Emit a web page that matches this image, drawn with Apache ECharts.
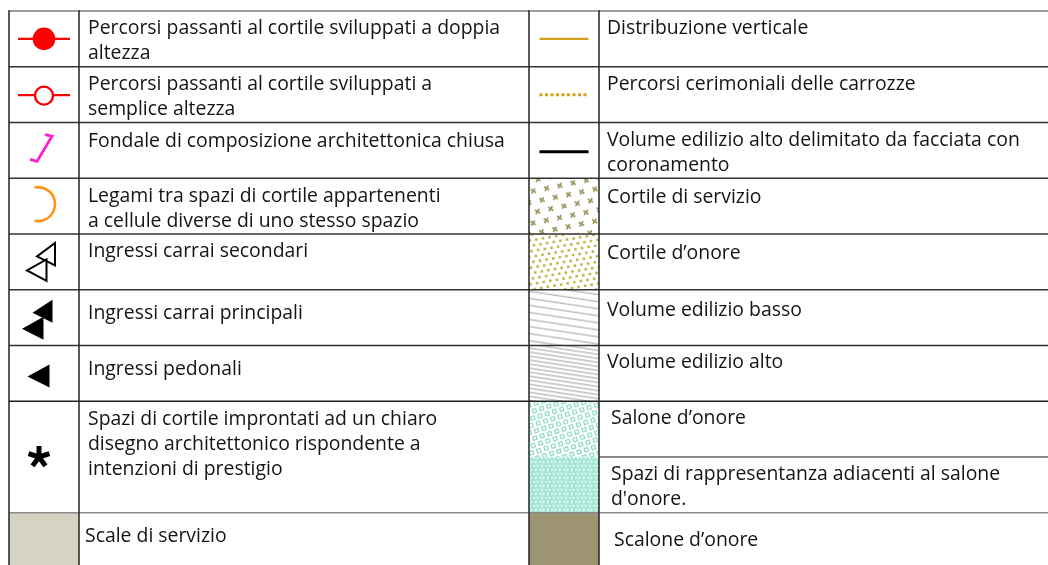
<!DOCTYPE html>
<html><head><meta charset="utf-8">
<script src="https://cdn.jsdelivr.net/npm/echarts@6/dist/echarts.min.js"></script>
<style>html,body{margin:0;padding:0;background:#fff}#c{width:1048px;height:565px}</style>
</head><body><div id="c"></div>
<script>
// ---------- DATA ----------
const leftLabels = [
  "Percorsi passanti al cortile sviluppati a doppia\naltezza",
  "Percorsi passanti al cortile sviluppati a\nsemplice altezza",
  "Fondale di composizione architettonica chiusa",
  "Legami tra spazi di cortile appartenenti\na cellule diverse di uno stesso spazio",
  "Ingressi carrai secondari",
  "Ingressi carrai principali",
  "Ingressi pedonali",
  "Spazi di cortile improntati ad un chiaro\ndisegno architettonico rispondente a\nintenzioni di prestigio",
  "Scale di servizio"
];
const leftSymbols = ["pathDouble","pathSingle","backdrop","link","entrySecondary","entryMain","entryPedestrian","asterisk","serviceStair"];
const leftRowStart = [0,1,2,3,4,5,6,7,9];
const leftRowSpan  = [1,1,1,1,1,1,1,2,1];

const rightLabels = [
  "Distribuzione verticale",
  "Percorsi cerimoniali delle carrozze",
  "Volume edilizio alto delimitato da facciata con\ncoronamento",
  "Cortile di servizio",
  "Cortile d’onore",
  "Volume edilizio basso",
  "Volume edilizio alto",
  "Salone d’onore",
  "Spazi di rappresentanza adiacenti al salone\nd'onore.",
  "Scalone d’onore"
];
const rightSymbols = ["vertical","carriage","facade","serviceCourt","honourCourt","lowVolume","highVolume","hall","representation","grandStair"];
const rightRowStart = [0,1,2,3,4,5,6,7,8,9];
const rightRowSpan  = [1,1,1,1,1,1,1,1,1,1];

// ---------- LAYOUT / STYLE (not data) ----------
const ROW_PX = 55.75;
const colEdges = [9, 79, 529, 599, 1048];
const FONT_SIZE = 19.4, LINE_H = 25;
const FONT = FONT_SIZE + 'px "Open Sans", "Noto Sans", sans-serif';
const leftTextDx  = [9,9,9,9,9,9,9,9,6];
const leftTextBase = [24.5,24.5,25.5,25.5,24.5,30.5,30.5,25.5,31];
const rightTextDx = [8,8,8,8,8,8,8,12,12,15];
const rightTextBase = [24.5,24.5,24.5,26.5,26.5,27.5,23.5,24.5,24.5,34.5];
const rightBorderCol = [2,2,2,2,2,2,2,2,3,2];
const hLineColor = {0:'#7a7a7a', 7:'#222', 8:'#666', 9:'#8a8a8a'};

// ---------- helpers ----------
function textEl(str, x, baseline){
  const top = baseline - (LINE_H/2 + 0.36*FONT_SIZE);
  return {type:'text', x:x, y:top, style:{text:str, font:FONT, fill:'#141414', lineHeight:LINE_H,
    align:'left', verticalAlign:'top', textAlign:'left', textVerticalAlign:'top'}};
}
function makeCanvas(w,h,draw){
  const c=document.createElement('canvas');
  c.width=Math.max(1,Math.round(w)); c.height=Math.max(1,Math.round(h));
  const ctx=c.getContext('2d');
  ctx.fillStyle='#fff'; ctx.fillRect(0,0,c.width,c.height);
  draw(ctx,c.width,c.height);
  return c;
}
function lattice(ctx,w,h,rot,dx,dy,shift,fn){
  ctx.save(); ctx.translate(w/2,h/2); ctx.rotate(rot);
  const n = Math.ceil(Math.max(w,h)/Math.min(dx,dy))+2;
  for(let j=-n;j<=n;j++) for(let i=-n;i<=n;i++){
    fn(i*dx + ((j%2+2)%2 ? shift : 0), j*dy);
  }
  ctx.restore();
}
const textures = {
  serviceCourt:(ctx,w,h)=>{
    ctx.strokeStyle='#9f9662'; ctx.lineWidth=1.8;
    lattice(ctx,w,h,-0.2,13.5,10.5,6.75,(x,y)=>{
      ctx.beginPath(); ctx.moveTo(x-2.2,y-2.2); ctx.lineTo(x+2.2,y+2.2);
      ctx.moveTo(x-2.2,y+2.2); ctx.lineTo(x+2.2,y-2.2); ctx.stroke();
    });
  },
  honourCourt:(ctx,w,h)=>{
    ctx.fillStyle='#c2b850';
    lattice(ctx,w,h,-0.17,6.7,5.4,3.35,(x,y)=>{ ctx.fillRect(x-1.25,y-1.25,2.6,2.6); });
  },
  lowVolume:(ctx,w,h)=>{
    ctx.strokeStyle='#8f8f8f'; ctx.lineWidth=0.8;
    ctx.save(); ctx.translate(w/2,h/2); ctx.rotate(0.15);
    for(let y=-h*1.5;y<=h*1.5;y+=7){ ctx.beginPath(); ctx.moveTo(-w,y); ctx.lineTo(w,y); ctx.stroke(); }
    ctx.restore();
  },
  highVolume:(ctx,w,h)=>{
    ctx.strokeStyle='#8f8f8f'; ctx.lineWidth=0.8;
    ctx.save(); ctx.translate(w/2,h/2); ctx.rotate(0.15);
    for(let y=-h*1.5;y<=h*1.5;y+=4){ ctx.beginPath(); ctx.moveTo(-w,y); ctx.lineTo(w,y); ctx.stroke(); }
    ctx.restore();
  },
  hall:(ctx,w,h)=>{
    ctx.strokeStyle='#86d8c4'; ctx.lineWidth=1.1;
    lattice(ctx,w,h,-0.3,7.6,6.6,3.8,(x,y)=>{ ctx.strokeRect(x-1.8,y-1.8,3.6,3.6); });
  },
  representation:(ctx,w,h)=>{
    ctx.fillStyle='#a3e5d5'; ctx.fillRect(0,0,w,h);
    ctx.fillStyle='#ffffff';
    for(let y=0;y<h;y+=4) for(let x=((y/4)%2)*2;x<w;x+=4){ ctx.fillRect(x,y,1.5,1.5); }
    ctx.strokeStyle='rgba(255,255,255,0.55)'; ctx.lineWidth=0.8;
    for(let x=1;x<w;x+=6){ ctx.beginPath(); ctx.moveTo(x,0); ctx.lineTo(x,h); ctx.stroke(); }
  }
};

function symbolShapes(kind, x0, x1, top, bottom){
  const cx=(x0+x1)/2, cy=(top+bottom)/2, out=[];
  const red='#ff0000', gold='#d5a11b';
  switch(kind){
    case 'pathDouble':
      out.push({type:'line',shape:{x1:cx-26,y1:cy,x2:cx+26,y2:cy},style:{stroke:red,lineWidth:2.4}});
      out.push({type:'circle',shape:{cx:cx,cy:cy,r:11.3},style:{fill:red}});
      break;
    case 'pathSingle':
      out.push({type:'line',shape:{x1:cx-26,y1:cy+0.5,x2:cx+26,y2:cy+0.5},style:{stroke:red,lineWidth:2.4}});
      out.push({type:'circle',shape:{cx:cx,cy:cy+1,r:9},style:{fill:'#fff',stroke:red,lineWidth:2.4}});
      break;
    case 'backdrop':
      out.push({type:'polyline',shape:{points:[[cx+1,cy-15.8],[cx+8,cy-14.2],[cx-7,cy+11],[cx-14,cy+9]]},
        style:{stroke:'#ff1ecf',lineWidth:2.8,fill:null,lineJoin:'miter'}});
      break;
    case 'link':
      out.push({type:'arc',shape:{cx:cx-6,cy:cy-2,r:17,startAngle:-1.78,endAngle:1.78,clockwise:true},
        style:{stroke:'#ff9216',lineWidth:2.6,fill:null}});
      break;
    case 'entrySecondary':
      out.push({type:'polygon',shape:{points:[[cx+11,cy-19],[cx+11,cy+3.5],[cx-7,cy-5.5]]},style:{fill:'#fff',stroke:'#000',lineWidth:2}});
      out.push({type:'polygon',shape:{points:[[cx+2.5,cy-2.5],[cx+2.5,cy+19],[cx-17,cy+8.5]]},style:{fill:'#fff',stroke:'#000',lineWidth:2}});
      break;
    case 'entryMain':
      out.push({type:'polygon',shape:{points:[[cx+8.5,cy-18],[cx+8.5,cy+5],[cx-11.5,cy-5]]},style:{fill:'#000'}});
      out.push({type:'polygon',shape:{points:[[cx-0.5,cy-1],[cx-0.5,cy+22],[cx-22,cy+11]]},style:{fill:'#000'}});
      break;
    case 'entryPedestrian':
      out.push({type:'polygon',shape:{points:[[cx+5.5,cy-9],[cx+5.5,cy+14],[cx-16.5,cy+3]]},style:{fill:'#000'}});
      break;
    case 'asterisk': {
      const ax=cx-5, ay=cy, L=11;
      for(let k=0;k<5;k++){
        const a=-Math.PI/2 + k*2*Math.PI/5;
        out.push({type:'line',shape:{x1:ax,y1:ay,x2:ax+L*Math.cos(a),y2:ay+L*Math.sin(a)},
          style:{stroke:'#000',lineWidth:5,lineCap:'butt'}});
      }
      break;
    }
    case 'serviceStair':
      out.push({type:'rect',shape:{x:x0,y:top,width:x1-x0,height:bottom-top},style:{fill:'#d6d3c3'}});
      break;
    case 'grandStair':
      out.push({type:'rect',shape:{x:x0,y:top,width:x1-x0,height:bottom-top},style:{fill:'#9d9571'}});
      break;
    case 'vertical':
      out.push({type:'line',shape:{x1:cx-24.5,y1:cy,x2:cx+24.5,y2:cy},style:{stroke:gold,lineWidth:2.4}});
      break;
    case 'carriage':
      out.push({type:'line',shape:{x1:cx-24.5,y1:cy,x2:cx+24.5,y2:cy},style:{stroke:gold,lineWidth:3,lineDash:[3,2.5]}});
      break;
    case 'facade':
      out.push({type:'line',shape:{x1:cx-24.5,y1:cy+1.3,x2:cx+24.5,y2:cy+1.3},style:{stroke:'#000',lineWidth:3}});
      break;
    default:
      if(textures[kind]){
        const cv = makeCanvas(x1-x0, bottom-top, textures[kind]);
        out.push({type:'image',style:{image:cv,x:x0,y:top,width:x1-x0,height:bottom-top}});
      }
  }
  return out;
}

function cellRenderer(labels, symbols, symCol, textDx, textBase){
  return function(params, api){
    const i = api.value(2), r0 = api.value(0), span = api.value(1);
    const top = api.coord([0, r0])[1], bottom = api.coord([0, r0+span])[1];
    const x0 = api.coord([colEdges[symCol], 0])[0];
    const x1 = api.coord([colEdges[symCol+1], 0])[0];
    const children = symbolShapes(symbols[i], x0, x1, top, bottom);
    children.push(textEl(labels[i], x1 + textDx[i], top + textBase[i]));
    return {type:'group', children:children};
  };
}

// border data built from the row arrays
const borderData = [];
leftRowStart.forEach(r => borderData.push([r, 0, 2]));
rightRowStart.forEach((r,i) => borderData.push([r, rightBorderCol[i], 4]));
const vData = [0,1,2,3].map(c => [c]);

const chart = echarts.init(document.getElementById('c'), null, {renderer:'canvas'});
chart.setOption({
  animation:false,
  backgroundColor:'#fff',
  grid:{left:0,right:0,top:11,bottom:0},
  xAxis:{type:'value',min:0,max:1048,show:false},
  yAxis:{type:'value',min:0,max:554/ROW_PX,inverse:true,show:false},
  series:[
    {type:'custom', coordinateSystem:'cartesian2d', silent:true,
     data: leftRowStart.map((r,i)=>[r, leftRowSpan[i], i]),
     encode:{x:-1,y:0},
     renderItem: cellRenderer(leftLabels, leftSymbols, 0, leftTextDx, leftTextBase)},
    {type:'custom', coordinateSystem:'cartesian2d', silent:true,
     data: rightRowStart.map((r,i)=>[r, rightRowSpan[i], i]),
     encode:{x:-1,y:0},
     renderItem: cellRenderer(rightLabels, rightSymbols, 2, rightTextDx, rightTextBase)},
    {type:'custom', coordinateSystem:'cartesian2d', silent:true,
     data: borderData, encode:{x:-1,y:0},
     renderItem:function(params, api){
       const r=api.value(0);
       const y=api.coord([0,r])[1];
       const xa=api.coord([colEdges[api.value(1)],0])[0], xb=api.coord([colEdges[api.value(2)],0])[0];
       return {type:'line',shape:{x1:xa,y1:y,x2:xb,y2:y},style:{stroke:hLineColor[r]||'#333',lineWidth:1.5}};
     }},
    {type:'custom', coordinateSystem:'cartesian2d', silent:true,
     data: vData, encode:{x:-1,y:-1},
     renderItem:function(params, api){
       const x=api.coord([colEdges[api.value(0)],0])[0];
       const y0=api.coord([0,0])[1], y1=api.coord([0,554/ROW_PX])[1];
       return {type:'line',shape:{x1:x,y1:y0-0.75,x2:x,y2:y1},style:{stroke:'#222',lineWidth:1.5}};
     }}
  ]
});
</script>
</body></html>
